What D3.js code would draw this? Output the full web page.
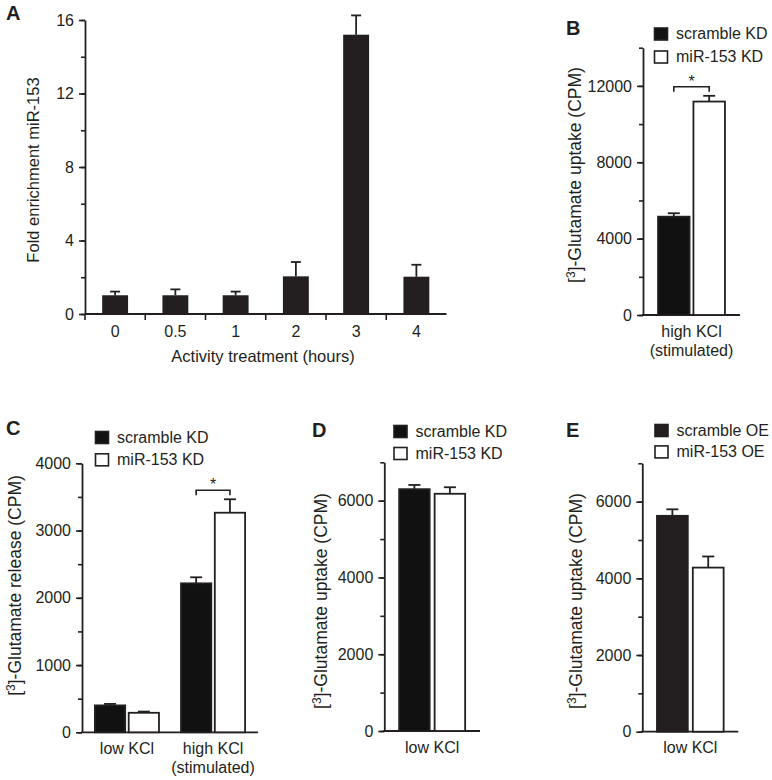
<!DOCTYPE html>
<html><head><meta charset="utf-8">
<script src="https://cdn.jsdelivr.net/npm/d3@7"></script>
<style>
body{margin:0;background:#fff}
svg{display:block}
text{font-family:"Liberation Sans",Arial,Helvetica,sans-serif;fill:#231f20}
</style>
</head><body>
<svg id="fig" width="772" height="780"></svg>
<script>
// ---------- DATA ----------
// Panel A
const hours = ["0", "0.5", "1", "2", "3", "4"];
const foldMean = [1.02, 1.02, 1.02, 2.05, 15.2, 2.03];
const foldErr = [0.2, 0.32, 0.2, 0.78, 1.05, 0.65];
const foldTicks = [0, 4, 8, 12, 16];
// Panel B
const groupsB = ["high KCl\n(stimulated)"];
const seriesKD = ["scramble KD", "miR-153 KD"];
const uptakeBMean = [[5150, 11180]];
const uptakeBErr = [[180, 300]];
const ticksB = [0, 4000, 8000, 12000];
// Panel C
const groupsC = ["low KCl", "high KCl\n(stimulated)"];
const releaseCMean = [[400, 290], [2215, 3265]];
const releaseCErr = [[22, 18], [90, 200]];
const ticksC = [0, 1000, 2000, 3000, 4000];
// Panel D
const groupsD = ["low KCl"];
const uptakeDMean = [[6300, 6180]];
const uptakeDErr = [[110, 170]];
const ticksDE = [0, 2000, 4000, 6000];
// Panel E
const groupsE = ["low KCl"];
const seriesOE = ["scramble OE", "miR-153 OE"];
const uptakeEMean = [[5630, 4280]];
const uptakeEErr = [[170, 290]];

// ---------- DRAWING ----------
const svg = d3.select("#fig");
const INK = "#231f20";
const FS = 16;

function styleAxis(g) {
  g.attr("font-size", null).attr("font-family", null);
  g.selectAll(".domain").attr("stroke", INK).attr("stroke-width", 1.8);
  g.selectAll(".tick line").attr("stroke", INK).attr("stroke-width", 1.6);
  g.selectAll(".tick text").style("font-size", FS + "px").attr("fill", INK);
}

function yAxis(g, y, x, minorStep, majors) {
  const max = y.domain()[1];
  const minors = d3.range(0, max + minorStep / 2, minorStep);
  g.append("g").attr("transform", `translate(${x},0)`)
    .call(d3.axisLeft(y).tickValues(minors).tickSize(4).tickSizeOuter(0).tickFormat(""))
    .call(styleAxis);
  g.append("g").attr("transform", `translate(${x},0)`)
    .call(d3.axisLeft(y).tickValues(majors).tickSize(6).tickSizeOuter(0).tickPadding(5).tickFormat(d3.format("d")))
    .call(styleAxis)
    .call(s => s.select(".domain").remove());
}

function yLabel(g, bx, cy, main, fs) {
  const t = g.append("text")
    .attr("transform", `translate(${bx},${cy}) rotate(-90)`)
    .attr("text-anchor", "middle")
    .style("font-size", fs + "px");
  if (main.startsWith("[3H]")) {
    t.append("tspan").text("[");
    t.append("tspan").text("3").style("font-size", "12px").attr("dy", -6.5);
    t.append("tspan").text(main.slice(3)).attr("dy", 6.5);
  } else {
    t.text(main);
  }
}

function panelLetter(x, y, l) {
  svg.append("text").attr("x", x).attr("y", y).text(l)
    .style("font-size", "20px").style("font-weight", "bold");
}

function errorBar(g, cx, y0, y1, cap) {
  g.append("line").attr("x1", cx).attr("x2", cx).attr("y1", y0).attr("y2", y1)
    .attr("stroke", INK).attr("stroke-width", 1.8);
  g.append("line").attr("x1", cx - cap / 2).attr("x2", cx + cap / 2).attr("y1", y1).attr("y2", y1)
    .attr("stroke", INK).attr("stroke-width", 1.8);
}

// ---- Panel A ----
(function () {
  const g = svg.append("g");
  const x = d3.scaleBand().domain(hours).range([85, 446.5]).paddingInner(0.57).paddingOuter(0.285);
  const y = d3.scaleLinear().domain([0, 16]).range([314, 20]);
  yAxis(g, y, 85, 2, foldTicks);
  g.append("line").attr("x1", 85).attr("x2", 446.5).attr("y1", y(0)).attr("y2", y(0))
    .attr("stroke", INK).attr("stroke-width", 1.8);
  const step = x.step();
  const x0 = x.range()[0];
  hours.forEach((h, i) => {
    g.append("line").attr("x1", x0 + i * step).attr("x2", x0 + i * step)
      .attr("y1", y(0)).attr("y2", y(0) + 6).attr("stroke", INK).attr("stroke-width", 1.6);
  });
  hours.forEach((h, i) => {
    const cx = x(h) + x.bandwidth() / 2;
    g.append("rect").attr("x", x(h)).attr("y", y(foldMean[i]))
      .attr("width", x.bandwidth()).attr("height", y(0) - y(foldMean[i]))
      .attr("fill", INK);
    errorBar(g, cx, y(foldMean[i]), y(foldMean[i] + foldErr[i]), 10);
    g.append("text").attr("x", cx).attr("y", 337).attr("text-anchor", "middle")
      .style("font-size", FS + "px").text(h);
  });
  g.append("text").attr("x", 263).attr("y", 362).attr("text-anchor", "middle")
    .style("font-size", "16.5px").text("Activity treatment (hours)");
  yLabel(g, 38.5, 170, "Fold enrichment miR-153", 16.5);
  panelLetter(6, 20, "A");
})();

// ---- Grouped panels ----
function grouped(cfg) {
  const g = svg.append("g");
  const x0 = d3.scaleBand().domain(cfg.groups).range(cfg.xRange)
    .paddingInner(cfg.pi0).paddingOuter(cfg.po0);
  const x1 = d3.scaleBand().domain(cfg.series).range([0, x0.bandwidth()]).paddingInner(cfg.pi1);
  const y = d3.scaleLinear().domain([0, cfg.yMax]).range(cfg.yRange);
  yAxis(g, y, cfg.xRange[0], cfg.minor, cfg.majors);
  g.append("line").attr("x1", cfg.xRange[0] - 1).attr("x2", cfg.xRange[1]).attr("y1", y(0)).attr("y2", y(0))
    .attr("stroke", INK).attr("stroke-width", 1.8);
  cfg.groups.forEach((grp, gi) => {
    cfg.series.forEach((s, si) => {
      const v = cfg.means[gi][si], e = cfg.errs[gi][si];
      const bx = x0(grp) + x1(s);
      const cx = bx + x1.bandwidth() / 2;
      errorBar(g, cx, y(v), y(v + e), 12);
      g.append("rect").attr("x", bx).attr("y", y(v))
        .attr("width", x1.bandwidth()).attr("height", y(0) - y(v))
        .attr("fill", si === 0 ? cfg.dark : "#fff").attr("stroke", INK).attr("stroke-width", 1.8);
    });
    const gc = x0(grp) + x0.bandwidth() / 2;
    grp.split("\n").forEach((line, li) => {
      g.append("text").attr("x", gc).attr("y", y(0) + 21.5 + li * 19.5)
        .attr("text-anchor", "middle").style("font-size", FS + "px").text(line);
    });
    if (cfg.sig && cfg.sig.includes(gi)) {
      const a = x0(grp) + x1(cfg.series[0]) + x1.bandwidth() / 2;
      const b = x0(grp) + x1(cfg.series[1]) + x1.bandwidth() / 2;
      const top = d3.min(cfg.series.map((s, si) => y(cfg.means[gi][si] + cfg.errs[gi][si]))) - 9;
      g.append("path").attr("d", `M${a},${top + 5}V${top}H${b}V${top + 5}`)
        .attr("fill", "none").attr("stroke", INK).attr("stroke-width", 1.6);
      g.append("text").attr("x", (a + b) / 2).attr("y", top).attr("text-anchor", "middle")
        .style("font-size", FS + "px").text("*");
    }
  });
  cfg.series.forEach((s, si) => {
    const ly = cfg.legend[1] + si * cfg.legend[2];
    g.append("rect").attr("x", cfg.legend[0]).attr("y", ly).attr("width", 13).attr("height", 12)
      .attr("fill", si === 0 ? cfg.dark : "#fff").attr("stroke", INK).attr("stroke-width", 1.6);
    g.append("text").attr("x", cfg.legend[0] + 21.5).attr("y", ly + 11)
      .style("font-size", FS + "px").text(s);
  });
  yLabel(g, cfg.yLab[0], cfg.yLab[1], cfg.yTitle, 17.5);
  panelLetter(cfg.letter[0], cfg.letter[1], cfg.letter[2]);
}

grouped({
  groups: groupsB, series: seriesKD, means: uptakeBMean, errs: uptakeBErr,
  xRange: [643, 740], pi0: 0, po0: 0.225, pi1: 0.11,
  yRange: [315, 47.7], yMax: 14000, minor: 2000, majors: ticksB, dark: "#111",
  sig: [0], legend: [654.5, 28, 23], yLab: [581, 175],
  yTitle: "[3H]-Glutamate uptake (CPM)", letter: [566, 35, "B"]
});
grouped({
  groups: groupsC, series: seriesKD, means: releaseCMean, errs: releaseCErr,
  xRange: [82, 258], pi0: 0.256, po0: 0.15, pi1: 0.104,
  yRange: [732.3, 463.3], yMax: 4000, minor: 500, majors: ticksC, dark: "#111",
  sig: [1], legend: [95.5, 431.5, 22.3], yLab: [21, 585.5],
  yTitle: "[3H]-Glutamate release (CPM)", letter: [6, 435, "C"]
});
grouped({
  groups: groupsD, series: seriesKD, means: uptakeDMean, errs: uptakeDErr,
  xRange: [384.3, 480], pi0: 0, po0: 0.225, pi1: 0.14,
  yRange: [731, 462.3], yMax: 7000, minor: 1000, majors: ticksDE, dark: "#111",
  sig: [], legend: [394, 425.5, 22], yLab: [327, 601],
  yTitle: "[3H]-Glutamate uptake (CPM)", letter: [312, 437, "D"]
});
grouped({
  groups: groupsE, series: seriesOE, means: uptakeEMean, errs: uptakeEErr,
  xRange: [642.3, 738.3], pi0: 0, po0: 0.22, pi1: 0.14,
  yRange: [731.7, 463.3], yMax: 7000, minor: 1000, majors: ticksDE, dark: INK,
  sig: [], legend: [655, 424.5, 21.4], yLab: [582, 601],
  yTitle: "[3H]-Glutamate uptake (CPM)", letter: [566, 437, "E"]
});
</script>
</body></html>
